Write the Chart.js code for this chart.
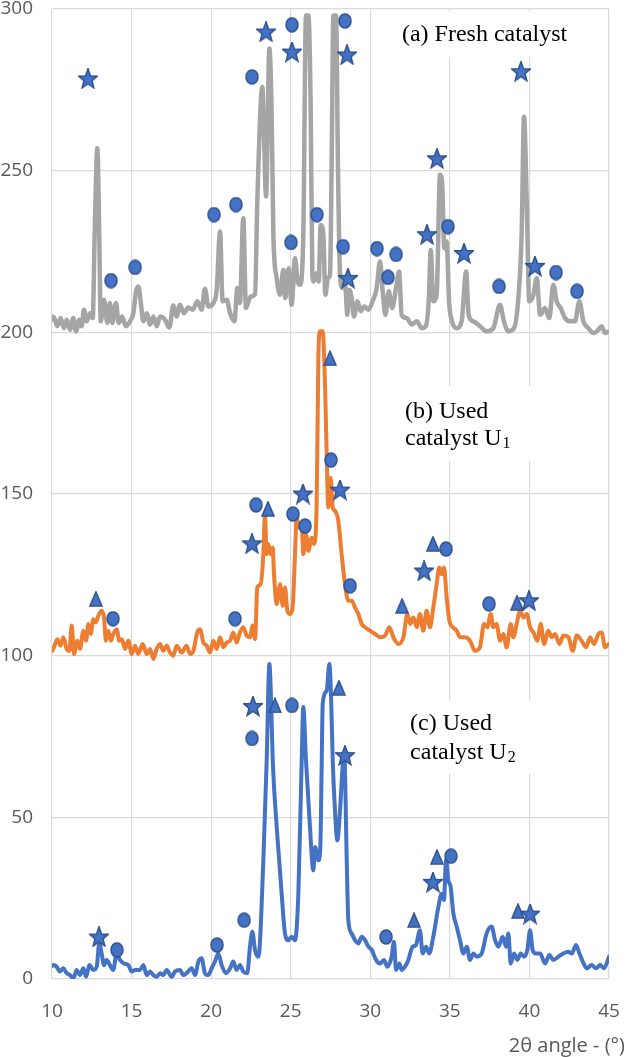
<!DOCTYPE html>
<html>
<head>
<meta charset="utf-8">
<script src="https://cdn.jsdelivr.net/npm/chart.js@4.4.1/dist/chart.umd.min.js"></script>
<style>
  html, body { margin: 0; padding: 0; background: #fff; }
  #wrap { width: 627px; height: 1057px; position: relative; }
</style>
</head>
<body>
<div id="wrap"><canvas id="xrdChart"></canvas></div>
<script>
// XRD patterns: [2theta, intensity]
const freshCatalyst = [
  [10.0,204.0],[10.08,204.9],[10.34,201.9],[10.54,204.4],[10.75,201.3],[10.92,203.9],[11.13,200.8],[11.34,204.4],[11.51,200.3],[11.72,203.9],
  [11.86,201.9],[12.01,207.0],[12.18,203.4],[12.39,205.9],[12.56,204.4],[12.68,230.1],[12.85,256.9],[12.97,230.1],[13.06,203.4],[13.27,210.1],
  [13.48,202.9],[13.64,209.1],[13.79,202.9],[14.02,209.1],[14.19,202.9],[14.40,204.9],[14.65,201.9],[14.90,203.4],[15.11,205.9],[15.28,212.7],
  [15.43,214.2],[15.57,209.6],[15.74,203.4],[15.95,205.9],[16.16,202.4],[16.37,204.9],[16.58,201.9],[16.79,204.9],[17.10,203.9],[17.37,201.5],
  [17.62,208.3],[17.83,204.9],[18.04,208.5],[18.29,205.9],[18.57,207.7],[18.84,207.0],[19.13,209.6],[19.40,207.0],[19.61,213.5],[19.82,208.0],
  [20.14,209.1],[20.35,213.2],[20.56,231.2],[20.72,209.6],[20.98,210.1],[21.19,205.9],[21.46,203.4],[21.65,213.7],[21.81,209.1],[22.02,235.3],
  [22.19,207.5],[22.48,211.1],[22.76,211.8],[22.90,240.4],[23.22,275.9],[23.32,261.0],[23.45,242.0],[23.66,287.8],[23.80,268.2],[23.91,230.1],
  [24.12,216.8],[24.33,211.6],[24.54,219.3],[24.66,210.6],[24.87,219.8],[25.06,208.5],[25.27,222.9],[25.44,215.7],[25.58,214.7],[25.79,230.1],
  [25.96,298.0],[26.11,298.0],[26.25,271.3],[26.36,217.8],[26.46,215.7],[26.63,218.3],[26.76,215.7],[26.88,233.2],[27.05,230.1],[27.18,211.6],
  [27.34,216.8],[27.47,217.8],[27.57,250.7],[27.68,298.0],[27.85,298.0],[27.97,250.7],[28.10,217.8],[28.27,213.7],[28.41,215.7],[28.56,205.4],
  [28.68,213.2],[28.83,210.6],[28.98,204.9],[29.19,209.6],[29.40,206.5],[29.61,208.0],[29.88,207.0],[30.15,209.6],[30.40,213.7],[30.61,221.9],
  [30.78,212.7],[30.95,205.4],[31.16,212.7],[31.37,207.5],[31.62,213.7],[31.81,218.8],[31.97,205.4],[32.29,204.4],[32.60,202.4],[32.92,203.4],
  [33.23,201.3],[33.48,201.9],[33.67,209.6],[33.80,225.5],[33.96,209.6],[34.17,211.6],[34.38,248.7],[34.51,246.6],[34.65,226.0],[34.80,228.1],
  [34.95,209.6],[35.14,203.4],[35.43,201.3],[35.74,203.4],[36.02,218.8],[36.18,205.4],[36.48,203.4],[36.90,201.9],[37.31,200.3],[37.73,201.3],
  [38.15,208.5],[38.40,203.4],[38.67,200.3],[39.03,201.3],[39.32,211.6],[39.51,230.1],[39.66,266.7],[39.83,240.4],[39.99,209.6],[40.25,211.6],
  [40.46,216.8],[40.67,205.4],[40.98,207.5],[41.25,204.4],[41.50,214.7],[41.71,209.6],[41.96,207.5],[42.24,204.4],[42.55,203.4],[42.86,203.4],
  [43.14,209.6],[43.39,203.4],[43.70,201.3],[44.02,199.8],[44.33,200.8],[44.54,201.9],[44.75,199.8],[45.0,200.3]
];

const usedCatalystU1 = [
  [10.0,101.5],[10.08,102.1],[10.34,105.1],[10.54,103.1],[10.71,105.7],[10.92,102.1],[11.09,101.5],[11.24,109.3],[11.38,100.5],[11.59,104.6],
  [11.76,102.1],[11.97,107.7],[12.14,104.6],[12.28,109.8],[12.43,106.7],[12.60,111.3],[12.76,110.3],[12.91,112.3],[13.12,113.9],[13.27,111.8],
  [13.39,104.6],[13.54,107.7],[13.71,104.6],[13.85,106.7],[14.06,108.2],[14.23,104.6],[14.38,105.1],[14.59,102.1],[14.80,104.6],[15.01,100.5],
  [15.22,103.1],[15.42,100.5],[15.70,103.6],[15.95,100.5],[16.16,102.1],[16.37,99.0],[16.58,102.1],[16.79,103.6],[16.99,101.5],[17.21,103.1],
  [17.41,101.0],[17.62,100.0],[17.83,103.1],[18.15,101.0],[18.46,103.1],[18.67,100.5],[18.88,101.5],[19.13,107.2],[19.30,108.2],[19.51,104.1],
  [19.72,103.1],[19.93,101.0],[20.14,104.6],[20.35,102.1],[20.56,105.7],[20.77,102.6],[20.98,104.1],[21.19,104.6],[21.39,107.2],[21.60,104.1],
  [21.81,107.2],[22.02,108.8],[22.23,106.2],[22.44,105.7],[22.61,109.3],[22.76,105.1],[22.90,121.1],[23.11,122.1],[23.28,131.4],[23.38,143.7],
  [23.49,131.4],[23.59,134.5],[23.74,131.4],[23.87,133.4],[23.95,125.2],[24.12,116.0],[24.33,122.1],[24.50,115.4],[24.64,121.1],[24.79,113.9],
  [24.96,112.9],[25.12,114.9],[25.27,131.4],[25.37,142.7],[25.54,139.6],[25.69,140.6],[25.79,131.4],[25.96,137.6],[26.11,132.4],[26.32,136.5],
  [26.46,134.5],[26.63,146.8],[26.74,193.1],[26.84,200.3],[27.01,200.3],[27.16,182.8],[27.26,162.2],[27.36,145.8],[27.51,155.0],[27.64,145.8],
  [27.78,144.8],[27.99,141.7],[28.20,131.4],[28.41,122.1],[28.62,117.0],[28.83,117.0],[29.04,114.9],[29.25,112.9],[29.46,109.8],[29.67,108.8],
  [29.98,107.7],[30.30,106.7],[30.61,105.7],[30.93,106.2],[31.20,108.8],[31.45,105.7],[31.76,103.6],[32.08,105.7],[32.33,112.9],[32.50,109.8],
  [32.71,111.8],[32.92,108.8],[33.12,112.9],[33.33,107.7],[33.54,113.9],[33.75,108.8],[33.96,114.9],[34.17,122.1],[34.34,127.3],[34.49,125.2],
  [34.63,127.3],[34.80,118.0],[34.97,110.8],[35.18,108.8],[35.43,107.7],[35.64,105.7],[35.95,105.7],[36.27,104.6],[36.58,101.5],[36.89,102.6],
  [37.15,109.8],[37.36,108.8],[37.57,112.9],[37.73,108.8],[37.94,109.8],[38.15,104.6],[38.36,106.7],[38.57,102.6],[38.82,109.8],[38.99,105.7],
  [39.20,109.8],[39.41,113.9],[39.62,111.8],[39.83,112.9],[40.04,108.8],[40.25,107.2],[40.50,104.6],[40.71,109.8],[40.92,103.6],[41.19,107.7],
  [41.40,105.7],[41.61,106.7],[41.88,103.6],[42.13,106.2],[42.45,105.7],[42.72,101.5],[42.97,106.2],[43.28,104.6],[43.56,102.6],[43.81,105.7],
  [44.06,103.6],[44.33,106.7],[44.54,107.2],[44.75,102.6],[45.0,103.6]
];

const usedCatalystU2 = [
  [10.0,4.0],[10.08,4.3],[10.29,3.8],[10.50,2.3],[10.71,3.3],[10.92,1.8],[11.13,1.2],[11.34,0.2],[11.55,2.8],[11.76,1.2],
  [11.97,3.3],[12.14,0.7],[12.35,4.3],[12.60,2.8],[12.81,3.8],[12.97,11.0],[13.12,7.9],[13.27,4.3],[13.43,5.9],[13.64,4.3],
  [13.85,2.8],[14.06,7.9],[14.27,5.9],[14.52,4.8],[14.80,4.3],[15.01,2.3],[15.22,2.8],[15.53,2.8],[15.74,4.3],[15.95,1.2],
  [16.16,2.3],[16.37,1.2],[16.58,0.7],[16.79,1.8],[16.99,1.2],[17.21,2.8],[17.52,0.7],[17.73,2.3],[18.04,2.8],[18.25,1.2],
  [18.46,1.8],[18.78,3.3],[18.99,1.2],[19.20,5.4],[19.40,6.4],[19.61,1.8],[19.82,1.2],[20.03,3.3],[20.24,5.4],[20.45,7.9],
  [20.66,4.3],[20.93,1.8],[21.19,3.3],[21.39,5.4],[21.60,2.8],[21.81,4.3],[22.02,2.3],[22.27,1.8],[22.44,10.0],[22.59,14.6],
  [22.76,8.9],[22.97,6.9],[23.28,36.7],[23.49,67.6],[23.66,97.4],[23.74,90.2],[23.87,67.6],[24.12,47.0],[24.43,26.4],[24.64,14.1],
  [24.85,12.0],[25.06,13.1],[25.27,12.0],[25.48,26.4],[25.69,67.6],[25.79,84.1],[25.96,67.6],[26.21,47.0],[26.42,33.6],[26.53,40.8],
  [26.74,36.7],[26.86,40.8],[26.95,67.6],[27.01,85.1],[27.26,89.2],[27.43,97.4],[27.53,88.2],[27.64,67.6],[27.78,52.2],[27.93,42.9],
  [28.10,52.2],[28.26,65.5],[28.37,68.6],[28.52,36.7],[28.62,18.2],[28.83,14.1],[29.04,12.0],[29.25,11.0],[29.46,13.1],[29.67,12.0],
  [29.88,10.0],[30.09,9.0],[30.36,5.9],[30.61,4.8],[30.86,5.9],[31.07,3.8],[31.34,6.9],[31.49,11.5],[31.62,2.8],[31.83,4.8],
  [31.97,2.8],[32.18,3.8],[32.39,5.9],[32.66,10.0],[32.87,10.5],[33.12,15.1],[33.29,7.9],[33.50,10.0],[33.71,7.9],[33.92,12.0],
  [34.07,16.2],[34.28,22.3],[34.49,26.4],[34.63,24.4],[34.76,36.7],[34.90,30.6],[35.05,28.5],[35.22,20.3],[35.43,16.2],[35.64,12.0],
  [35.85,7.9],[36.06,10.0],[36.27,5.9],[36.48,7.9],[36.69,6.9],[37.00,7.9],[37.31,14.1],[37.63,16.2],[37.84,12.0],[38.05,10.0],
  [38.32,13.1],[38.53,10.0],[38.68,14.1],[38.82,4.8],[39.03,7.9],[39.24,5.9],[39.45,7.9],[39.66,6.9],[39.87,9.0],[40.04,15.1],
  [40.20,9.0],[40.41,7.9],[40.67,7.9],[40.98,4.8],[41.25,7.4],[41.50,5.9],[41.82,6.9],[42.13,7.9],[42.45,8.4],[42.66,7.9],
  [42.93,10.5],[43.14,7.9],[43.35,5.4],[43.60,3.3],[43.91,4.3],[44.18,3.3],[44.44,4.3],[44.69,3.3],[45.0,6.9]
];

// phase markers placed above the peaks
const circleMarks = [
  [13.71,216.0],[15.22,220.1],[20.18,236.4],[21.56,239.5],[22.57,279.0],[25.08,295.1],[25.02,227.8],[26.65,236.4],[28.41,296.3],
  [28.29,226.5],[30.42,225.9],[31.11,217.0],[31.62,224.1],[34.88,232.7],[38.09,214.2],[41.67,218.5],[42.99,212.7],
  [13.83,111.4],[21.50,111.4],[22.82,146.6],[25.14,143.8],[25.90,140.1],[27.53,160.5],[28.73,121.6],[34.76,133.0],[37.46,116.0],
  [14.08,9.0],[20.37,10.5],[22.07,18.2],[22.57,74.4],[25.08,84.6],[30.99,13.0],[35.07,38.0]
];
const starMarks = [
  [12.26,278.4],[23.45,292.9],[25.08,286.7],[28.54,285.8],[28.60,216.7],[33.56,230.2],[34.19,253.7],[35.89,224.4],[39.47,280.6],[40.35,220.4],
  [22.57,134.6],[25.77,150.0],[28.10,151.2],[33.38,126.2],[39.97,117.0],
  [12.95,13.0],[22.63,84.3],[28.41,69.1],[33.94,29.9],[40.04,20.1]
];
const triangleMarks = [
  [12.76,117.6],[23.57,145.4],[27.47,192.0],[32.0,115.4],[33.94,134.6],[39.22,116.4],
  [24.01,84.6],[28.03,90.1],[32.75,18.2],[34.19,37.7],[39.28,21.0]
];

const xTicks = [10, 15, 20, 25, 30, 35, 40, 45];
const yTicks = [0, 50, 100, 150, 200, 250, 300];

const markFill = '#4472C4';
const markEdge = '#2F528F';

function toXY(list) {
  return list.map(p => ({ x: p[0], y: p[1] }));
}

// small canvases used as point styles
function makeMark(kind) {
  const c = document.createElement('canvas');
  const w = kind === 'star' ? 20 : 14;
  const h = kind === 'star' ? 21 : 16;
  c.width = w; c.height = h;
  const g = c.getContext('2d');
  g.fillStyle = markFill;
  g.strokeStyle = markEdge;
  g.lineWidth = 1.5;
  g.beginPath();
  if (kind === 'circle') {
    g.ellipse(w / 2, h / 2, w / 2 - 1, h / 2 - 1, 0, 0, Math.PI * 2);
  } else if (kind === 'triangle') {
    g.moveTo(w / 2, 1);
    g.lineTo(w - 1, h - 1);
    g.lineTo(1, h - 1);
    g.closePath();
  } else {
    const cx = w / 2, cy = h / 2 + 0.5;
    for (let i = 0; i < 10; i++) {
      const r = i % 2 === 0 ? 10 : 4.2;
      const a = -Math.PI / 2 + i * Math.PI / 5;
      const px = cx + r * Math.cos(a);
      const py = cy + r * Math.sin(a) * 1.05;
      if (i === 0) g.moveTo(px, py); else g.lineTo(px, py);
    }
    g.closePath();
  }
  g.fill();
  g.stroke();
  return c;
}

// white text boxes with the panel captions
const captions = {
  id: 'captions',
  beforeDatasetsDraw(chart) {
    const { ctx, scales } = chart;
    const xs = scales.x, ys = scales.y;
    const boxes = [
      [31.55, 42.86, 299.4, 285.2],
      [31.74, 40.66, 183.3, 160.2],
      [31.87, 40.66, 86.1, 63.6]
    ];
    ctx.save();
    ctx.fillStyle = '#fff';
    boxes.forEach(b => {
      const x1 = xs.getPixelForValue(b[0]), x2 = xs.getPixelForValue(b[1]);
      const y1 = ys.getPixelForValue(b[2]), y2 = ys.getPixelForValue(b[3]);
      ctx.fillRect(x1, y1, x2 - x1, y2 - y1);
    });
    ctx.restore();
  },
  afterDraw(chart) {
    const { ctx, scales } = chart;
    const xs = scales.x, ys = scales.y;
    ctx.save();
    ctx.fillStyle = '#000';
    ctx.textBaseline = 'middle';
    ctx.textAlign = 'left';
    ctx.font = '24px "Liberation Serif", "Times New Roman", serif';
    ctx.fillText('(a) Fresh catalyst', xs.getPixelForValue(31.99), ys.getPixelForValue(292));
    ctx.fillText('(b) Used', xs.getPixelForValue(32.18), ys.getPixelForValue(175.6));
    ctx.fillText('(c) Used', xs.getPixelForValue(32.5), ys.getPixelForValue(79.0));

    const sub = (label, n, xv, yv) => {
      const x = xs.getPixelForValue(xv), y = ys.getPixelForValue(yv);
      ctx.font = '24px "Liberation Serif", "Times New Roman", serif';
      ctx.fillText(label, x, y);
      const w = ctx.measureText(label).width;
      ctx.font = '16px "Liberation Serif", "Times New Roman", serif';
      ctx.fillText(n, x + w + 1, y + 5);
    };
    sub('catalyst U', '1', 32.18, 167.0);
    sub('catalyst U', '2', 32.5, 70.1);

    // x axis title, right aligned at the canvas edge
    ctx.font = '20px "Open Sans", sans-serif';
    ctx.fillStyle = '#595959';
    ctx.textAlign = 'right';
    ctx.fillText('2\u03B8 angle - (\u00B0)', chart.width - 2, chart.height - 11);
    ctx.restore();
  }
};

document.addEventListener('DOMContentLoaded', function() {
  const ctx = document.getElementById('xrdChart').getContext('2d');

  const lineSet = (label, pts, color, width) => ({
    type: 'line',
    label: label,
    data: toXY(pts),
    borderColor: color,
    borderWidth: width,
    pointRadius: 0,
    fill: false,
    tension: 0.25,
    cubicInterpolationMode: 'monotone',
    borderJoinStyle: 'round',
    borderCapStyle: 'round'
  });

  const markSet = (label, pts, kind) => ({
    type: 'scatter',
    label: label,
    data: toXY(pts),
    pointStyle: makeMark(kind),
    pointRadius: 8,
    showLine: false
  });

  new Chart(ctx, {
    type: 'line',
    data: {
      datasets: [
        markSet('circle', circleMarks, 'circle'),
        markSet('star', starMarks, 'star'),
        markSet('triangle', triangleMarks, 'triangle'),
        lineSet('(c) Used catalyst U2', usedCatalystU2, '#4472C4', 4),
        lineSet('(b) Used catalyst U1', usedCatalystU1, '#ED7D31', 4),
        lineSet('(a) Fresh catalyst', freshCatalyst, '#A5A5A5', 4.5)
      ]
    },
    options: {
      responsive: true,
      maintainAspectRatio: false,
      animation: false,
      events: [],
      layout: { padding: { top: 7, right: 18, bottom: 0, left: 0 } },
      plugins: {
        legend: { display: false },
        tooltip: { enabled: false }
      },
      scales: {
        x: {
          type: 'linear',
          min: 10,
          max: 45,
          afterBuildTicks: scale => { scale.ticks = xTicks.map(v => ({ value: v })); },
          afterFit: scale => { scale.height = 78; scale.paddingLeft = 0; scale.paddingRight = 0; },
          grid: { color: '#D9D9D9', lineWidth: 1.2, drawTicks: false },
          border: { display: false },
          ticks: {
            padding: 21,
            color: '#595959',
            font: { family: '"Open Sans", sans-serif', size: 19 },
            maxRotation: 0
          }
        },
        y: {
          min: 0,
          max: 300,
          afterBuildTicks: scale => { scale.ticks = yTicks.map(v => ({ value: v })); },
          afterFit: scale => { scale.width = 52; scale.paddingTop = 0; scale.paddingBottom = 0; },
          grid: { color: '#D9D9D9', lineWidth: 1.2, drawTicks: false },
          border: { display: false },
          ticks: {
            padding: 19,
            color: '#595959',
            font: { family: '"Open Sans", sans-serif', size: 19 }
          }
        }
      }
    },
    plugins: [captions]
  });
});
</script>
</body>
</html>
